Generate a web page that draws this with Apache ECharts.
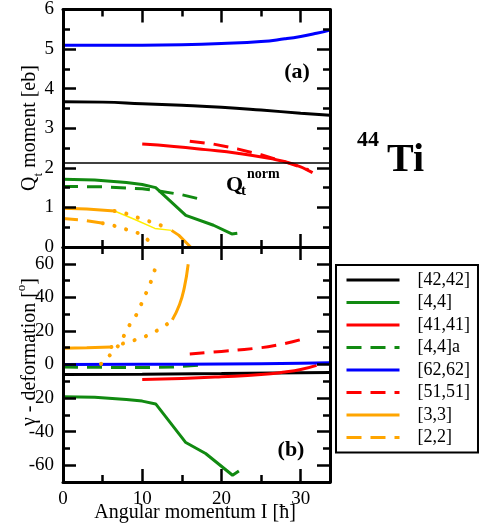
<!DOCTYPE html>
<html>
<head>
<meta charset="utf-8">
<script src="https://cdn.jsdelivr.net/npm/echarts@6/dist/echarts.min.js"></script>
<style>
  html, body { margin: 0; padding: 0; background: #fff; }
  #chart { width: 480px; height: 527px; }
</style>
</head>
<body>
<div id="chart"></div>
<script>
const xMax = 33.7
const xMajor = [0, 10, 20, 30]
const xMinor = [5, 15, 25]
const qMajor = [0, 1, 2, 3, 4, 5, 6]
const qMinor = [0.5, 1.5, 2.5, 3.5, 4.5, 5.5]
const gMajor = [-60, -40, -20, 0, 20, 40, 60]
const gMinor = [-50, -30, -10, 10, 30, 50]
const qNorm = 2.12

const names = ['[42,42]', '[4,4]', '[41,41]', '[4,4]a', '[62,62]', '[51,51]', '[3,3]', '[2,2]']

// panel (a): Q_t moment
const q42 = [[0, 3.67], [5, 3.66], [10, 3.62], [15, 3.58], [20, 3.53], [25, 3.46], [30, 3.38], [33.7, 3.33]]
const q44 = [[0, 1.71], [4, 1.69], [8, 1.63], [10, 1.58], [11.7, 1.5], [15.5, 0.8], [19, 0.55], [21.3, 0.33], [22, 0.35]]
const q41 = [[10, 2.6], [14, 2.54], [18, 2.46], [22, 2.37], [26, 2.24], [29, 2.1], [31.5, 1.88]]
const q44a = [[0, 1.53], [5, 1.52], [10, 1.47], [12, 1.42], [15, 1.32], [17.5, 1.2]]
const q62 = [[0, 5.1], [10, 5.1], [15, 5.11], [20, 5.14], [25, 5.19], [28, 5.26], [30, 5.32], [32, 5.4], [33.7, 5.48]]
const q51 = [[16, 2.67], [19, 2.6], [22, 2.48], [25, 2.33], [28, 2.15], [31, 1.95]]
const q33a = [[0, 0.98], [3, 0.96], [6.5, 0.91]]
const q33b = [[13.7, 0.42], [14.6, 0.3], [15.6, 0.1], [16.1, 0]]
const q33thin = [[6.5, 0.91], [9, 0.7], [11.6, 0.47], [13.7, 0.42]]
const q33dots = [[6.5, 0.91], [7.9, 0.85], [9.3, 0.75], [10.7, 0.66], [12.2, 0.56], [13.7, 0.42]]
const q22 = [[0, 0.72], [2.5, 0.68], [5, 0.6]]
const q22dots = [[5, 0.6], [6.4, 0.54], [7.9, 0.45], [9.5, 0.35], [10.7, 0.18], [11.2, 0.05]]

// panel (b): gamma deformation
const g42 = [[0, -6], [10, -5.8], [20, -5.4], [30, -4.9], [33.7, -4.7]]
const g44 = [[0, -19.2], [4, -19.5], [8, -20.8], [10, -21.8], [11.7, -23.5], [15.5, -46.5], [18, -53], [21.4, -66], [22.2, -63.5]]
const g41 = [[10, -8.9], [15, -8.3], [20, -7.3], [25, -6], [28, -4.5], [30, -3], [32, -0.5]]
const g44a = [[0, -1.5], [5, -1.7], [10, -1.8], [14, -1.5], [17.5, -0.3]]
const g62 = [[0, 0], [10, 0.1], [20, 0.3], [30, 0.7], [33.7, 1]]
const g51 = [[16, 6.3], [20, 7.8], [24, 9.5], [27, 11.5], [30, 14.8]]
const g33a = [[0, 9.7], [3, 10], [6.1, 10.4]]
const g33b = [[13.8, 26.7], [14.7, 35.6], [15.3, 45.5], [15.8, 59.7]]
const g33dots = [[6.1, 10.4], [8.5, 13.8], [10, 15.8], [11.3, 18.8], [12.7, 22.3], [13.8, 26.7]]
const g22dots = [[4.8, 0.4], [5.9, 5.5], [7, 11.3], [7.7, 17.2], [8.4, 23.5], [9.3, 29.9], [9.9, 36.2], [10.5, 42.7], [11.1, 49.4], [11.6, 56.6]]

const serif = 'Liberation Serif'
const GREEN = '#118a11'
const ORANGE = '#ffa500'
const DASH = [15, 9]
const DOTS = [0.1, 12]

const chart = echarts.init(document.getElementById('chart'))

// one axis side: major ticks (with frame line) + overlay with minor ticks
const axisPair = (kind, gridIndex, position, min, max, major, minor, labels) => {
  const base = {
    type: 'value', gridIndex, position, min, max, z: 5,
    splitLine: { show: false }
  }
  return [
    Object.assign({}, base, {
      axisLine: { show: true, onZero: false, lineStyle: { color: '#000', width: 3 } },
      axisTick: { show: true, inside: true, length: 13, customValues: major, lineStyle: { color: '#000', width: 2.5 } },
      axisLabel: labels ? {
        show: true, customValues: major, color: '#000', fontFamily: serif, fontSize: 19,
        margin: kind === 'x' ? 8 : 9
      } : { show: false }
    }),
    Object.assign({}, base, {
      axisLine: { show: false, onZero: false },
      axisTick: { show: true, inside: true, length: 7, customValues: minor, lineStyle: { color: '#000', width: 2.5 } },
      axisLabel: { show: false }
    })
  ]
}

// xAxis: grid0 -> 0..3, grid1 -> 4..7 ; yAxis same
const xAxis = [
  ...axisPair('x', 0, 'bottom', 0, xMax, xMajor, xMinor, false),
  ...axisPair('x', 0, 'top', 0, xMax, xMajor, xMinor, false),
  ...axisPair('x', 1, 'bottom', 0, xMax, xMajor, xMinor, true),
  ...axisPair('x', 1, 'top', 0, xMax, xMajor, xMinor, false)
]
const yAxis = [
  ...axisPair('y', 0, 'left', 0, 6, qMajor, qMinor, true),
  ...axisPair('y', 0, 'right', 0, 6, qMajor, qMinor, false),
  ...axisPair('y', 1, 'left', -70, 70, gMajor, gMinor, true),
  ...axisPair('y', 1, 'right', -70, 70, gMajor, gMinor, false)
]

const line = (name, panel, data, color, opts = {}) => ({
  name, type: 'line', data,
  xAxisIndex: panel === 0 ? 0 : 4,
  yAxisIndex: panel === 0 ? 0 : 4,
  symbol: 'none', smooth: opts.smooth || false,
  lineStyle: { color, width: opts.width || 3, type: opts.type || 'solid', cap: opts.cap || 'butt' },
  itemStyle: { color },
  z: opts.z || 2,
  silent: true
})

const series = [
  line('[42,42]', 0, q42, '#000', { smooth: true }),
  line('[4,4]', 0, q44, GREEN),
  line('[41,41]', 0, q41, '#ff0000', { smooth: true }),
  line('[4,4]a', 0, q44a, GREEN, { type: DASH }),
  line('[62,62]', 0, q62, '#0000ff', { smooth: true }),
  line('[51,51]', 0, q51, '#ff0000', { type: DASH }),
  line('[3,3]', 0, q33a, ORANGE),
  line('[3,3]', 0, q33b, ORANGE),
  line('[2,2]', 0, q22, ORANGE, { type: DASH }),
  line('q33thin', 0, q33thin, '#ffee00', { width: 1.5 }),
  line('q33dots', 0, q33dots, ORANGE, { type: DOTS, cap: 'round', width: 4 }),
  line('q22dots', 0, q22dots, ORANGE, { type: DOTS, cap: 'round', width: 4 }),
  line('norm', 0, [[0, qNorm], [xMax, qNorm]], '#000', { width: 1.5 }),

  line('[42,42]', 1, g42, '#000'),
  line('[4,4]', 1, g44, GREEN),
  line('[41,41]', 1, g41, '#ff0000', { smooth: true }),
  line('[4,4]a', 1, g44a, GREEN, { type: DASH }),
  line('[62,62]', 1, g62, '#0000ff', { smooth: true }),
  line('[51,51]', 1, g51, '#ff0000', { type: DASH, smooth: true }),
  line('[3,3]', 1, g33a, ORANGE),
  line('[3,3]', 1, g33b, ORANGE, { smooth: true }),
  line('g33dots', 1, g33dots, ORANGE, { type: DOTS, cap: 'round', width: 4 }),
  line('g22dots', 1, g22dots, ORANGE, { type: DOTS, cap: 'round', width: 4 })
]

const txt = (x, y, text, size, opts = {}) => ({
  type: 'text', x, y, rotation: opts.rotation || 0, z: 10,
  style: Object.assign({
    text, fontFamily: serif, fontSize: size, fontWeight: opts.bold ? 'bold' : 'normal',
    fill: '#000', align: opts.align || 'center', verticalAlign: 'middle'
  }, opts.rich ? { rich: opts.rich } : {})
})

const option = {
  animation: false,
  backgroundColor: '#fff',
  textStyle: { fontFamily: serif },
  grid: [
    { left: 63, top: 7, width: 267, height: 240 },
    { left: 63, top: 247, width: 267, height: 235 }
  ],
  xAxis,
  yAxis,
  legend: {
    data: names,
    orient: 'vertical',
    left: 336, top: 265,
    padding: [6, 8, 6, 9],
    itemWidth: 53, itemHeight: 14, itemGap: 4.5,
    borderColor: '#000', borderWidth: 2,
    backgroundColor: '#fff',
    selectedMode: false,
    itemStyle: { color: 'transparent', borderWidth: 0, opacity: 0 },
    lineStyle: { width: 3 },
    textStyle: { fontFamily: serif, fontSize: 18, color: '#000', padding: [0, 0, 0, 13] }
  },
  series,
  graphic: [
    txt(30, 128, 'Q{s|t} moment [eb]', 20, {
      rotation: Math.PI / 2,
      rich: { s: { fontFamily: serif, fontSize: 13, verticalAlign: 'bottom', lineHeight: 30 } }
    }),
    txt(30, 352, 'γ - deformation [{o|o}]', 20, {
      rotation: Math.PI / 2,
      rich: { o: { fontFamily: serif, fontSize: 13, verticalAlign: 'top', lineHeight: 30 } }
    }),
    txt(195, 513, 'Angular momentum I [ħ]', 20),
    txt(297, 72, '(a)', 22, { bold: true }),
    txt(291, 450, '(b)', 22, { bold: true }),
    txt(226, 185, 'Q', 22, { bold: true, align: 'left' }),
    txt(241, 191, 't', 15, { bold: true, align: 'left' }),
    txt(247, 174, 'norm', 14, { bold: true, align: 'left' }),
    txt(357, 140, '44', 22, { bold: true, align: 'left' }),
    txt(387, 161, 'Ti', 40, { bold: true, align: 'left' })
  ]
}

chart.setOption(option)
</script>
</body>
</html>
